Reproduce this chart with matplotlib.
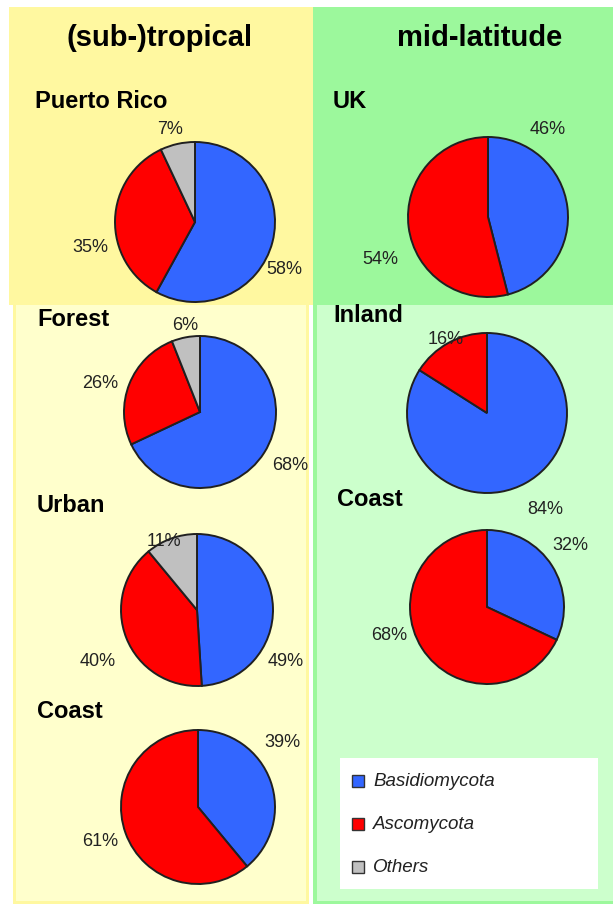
import matplotlib
matplotlib.use("Agg")
import matplotlib.pyplot as plt
from matplotlib.patches import Rectangle

plt.rcParams['font.family'] = ['Liberation Sans', 'DejaVu Sans']

# data
series = ["Basidiomycota", "Ascomycota", "Others"]
colors = ["#3366ff", "#ff0000", "#c0c0c0"]

puerto_rico = [58, 35, 7]
forest = [68, 26, 6]
urban = [49, 40, 11]
coast_sub = [39, 61]
uk = [46, 54]
inland = [84, 16]
coast_mid = [32, 68]

W, H = 613, 905

def Y(y):
    return H - y

fig = plt.figure(figsize=(W / 100, H / 100), dpi=100)
ax = fig.add_axes([0, 0, 1, 1])

def rect(x0, y0, x1, y1, c):
    ax.add_patch(Rectangle((x0, Y(y1)), x1 - x0, y1 - y0, facecolor=c, edgecolor='none', zorder=0))

# backgrounds
rect(9, 7, 313, 305, "#fff8a0")
rect(313, 7, 613, 305, "#9cf89c")
rect(13, 305, 309, 904, "#fff8a0")
rect(16, 305, 306, 901, "#ffffcc")
rect(313, 305, 613, 904, "#9cf89c")
rect(317, 305, 613, 901, "#ccffcc")

# pies: values, center, radius, label positions
pies = [
    (puerto_rico, (195, 222), 80, [(284, 270), (90, 248), (170, 130)]),
    (forest, (200, 412), 76, [(290, 465), (100, 383), (185, 326)]),
    (urban, (197, 610), 76, [(286, 662), (98, 662), (164, 541)]),
    (coast_sub, (198, 807), 77, [(282, 742), (100, 841)]),
    (uk, (488, 217), 80, [(548, 130), (380, 260)]),
    (inland, (487, 413), 80, [(545, 510), (446, 340)]),
    (coast_mid, (487, 607), 77, [(570, 546), (389, 636)]),
]

for vals, (cx, cy), r, labpos in pies:
    ax.pie(vals, colors=colors[:len(vals)], center=(cx, Y(cy)), radius=r,
           startangle=90, counterclock=False,
           wedgeprops=dict(edgecolor='#202020', linewidth=1.4))
    for v, (lx, ly) in zip(vals, labpos):
        ax.text(lx, Y(ly), f"{v}%", ha='center', va='center', fontsize=13, color='#222222')

# titles
ax.text(160, Y(38), "(sub-)tropical", ha='center', va='center', fontsize=21, fontweight='bold')
ax.text(480, Y(38), "mid-latitude", ha='center', va='center', fontsize=21, fontweight='bold')

subtitles = [("Puerto Rico", 35, 102), ("UK", 333, 102), ("Forest", 37, 320), ("Inland", 333, 316),
             ("Urban", 37, 505), ("Coast", 337, 500), ("Coast", 37, 712)]
for s, x, y in subtitles:
    ax.text(x, Y(y), s, ha='left', va='center', fontsize=17, fontweight='bold')

# legend box
rect(340, 758, 598, 889, "white")
for i, name in enumerate(series):
    y = 781 + i * 43
    ax.add_patch(Rectangle((352, Y(y) - 6), 12, 12, facecolor=colors[i], edgecolor='#333333', linewidth=1, zorder=3))
    ax.text(373, Y(y), name, ha='left', va='center', fontsize=13.5, style='italic', color='#222222')

ax.set_xlim(0, W)
ax.set_ylim(0, H)
ax.set_aspect('auto')
ax.axis('off')

fig.savefig("out.png", dpi=100, facecolor='white')
